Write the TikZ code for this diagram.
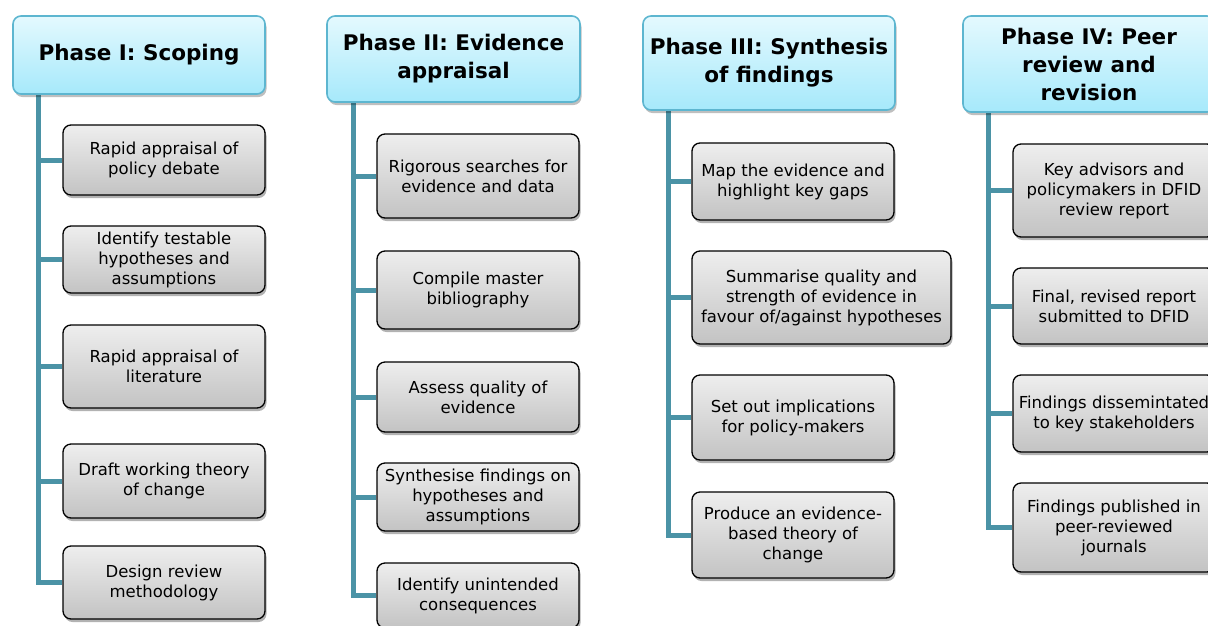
\documentclass[tikz,border=0pt]{standalone}
\usepackage{fontspec}
\setmainfont{DejaVu Sans}
\usetikzlibrary{shadows,backgrounds}
\definecolor{hdrtop}{HTML}{E4F9FE}
\definecolor{hdrbot}{HTML}{A6E9FB}
\definecolor{hdrline}{HTML}{5DB6D0}
\definecolor{boxtop}{HTML}{EEEEEE}
\definecolor{boxbot}{HTML}{C3C3C3}
\definecolor{trunkcol}{HTML}{4B93A6}
\tikzset{
  hdr/.style={draw=hdrline, line width=1.6pt, rounded corners=8pt,
    top color=hdrtop, bottom color=hdrbot, align=center,
    font=\fontsize{21.5}{28}\selectfont\bfseries, inner sep=1pt,
    drop shadow={shadow xshift=1.5pt, shadow yshift=-3pt, opacity=0.25, fill=black}},
  item/.style={draw=black, line width=1.3pt, rounded corners=8pt,
    top color=boxtop, bottom color=boxbot, align=center,
    font=\fontsize{16.5}{20}\selectfont, inner sep=1pt, minimum width=202pt,
    drop shadow={shadow xshift=1.5pt, shadow yshift=-3pt, opacity=0.3, fill=black}},
  trunk/.style={draw=trunkcol, line width=5pt}
}
\begin{document}
\begin{tikzpicture}[x=1pt,y=-1pt]
\useasboundingbox (0,0) rectangle (1208,625);
\clip (0,0) rectangle (1208,625);
% headers
\node[hdr, minimum width=252pt, minimum height=78pt] (h1) at (139,55) {Phase I: Scoping};
\node[hdr, minimum width=253pt, minimum height=86pt] (h2) at (453.5,59) {Phase II: Evidence\\appraisal};
\node[hdr, minimum width=252pt, minimum height=94pt] (h3) at (769,63) {Phase III: Synthesis\\of findings};
\node[hdr, minimum width=252pt, minimum height=96pt] (h4) at (1089,64) {Phase IV: Peer\\review and\\revision};
% trunk coordinates
\coordinate (t1) at (38,0);
\coordinate (t2) at (353,0);
\coordinate (t3) at (668,0);
\coordinate (t4) at (988,0);
% phase I
\node[item, minimum height=70pt] (a1) at (164,160) {Rapid appraisal of\\policy debate};
\node[item, minimum height=67pt] (a2) at (164,259.5) {Identify testable\\hypotheses and\\assumptions};
\node[item, minimum height=83pt] (a3) at (164,366.5) {Rapid appraisal of\\literature};
\node[item, minimum height=74pt] (a4) at (164,481) {Draft working theory\\of change};
\node[item, minimum height=73pt] (a5) at (164,582.5) {Design review\\methodology};
% phase II
\node[item, minimum height=84pt] (b1) at (478,176) {Rigorous searches for\\evidence and data};
\node[item, minimum height=78pt] (b2) at (478,290) {Compile master\\bibliography};
\node[item, minimum height=70pt] (b3) at (478,397) {Assess quality of\\evidence};
\node[item, minimum height=68pt] (b4) at (478,497) {Synthesise findings on\\hypotheses and\\assumptions};
\node[item, minimum height=65pt] (b5) at (478,595.5) {Identify unintended\\consequences};
% phase III
\node[item, minimum height=77pt] (c1) at (793,181.5) {Map the evidence and\\highlight key gaps};
\node[item, minimum height=93pt, minimum width=259pt] (c2) at (821.5,297.5) {Summarise quality and\\strength of evidence in\\favour of/against hypotheses};
\node[item, minimum height=85pt] (c3) at (793,417.5) {Set out implications\\for policy-makers};
\node[item, minimum height=86pt] (c4) at (793,535) {Produce an evidence-\\based theory of\\change};
% phase IV
\node[item, minimum height=93pt] (d1) at (1114,190.5) {Key advisors and\\policymakers in DFID\\review report};
\node[item, minimum height=76pt] (d2) at (1114,306) {Final, revised report\\submitted to DFID};
\node[item, minimum height=77pt] (d3) at (1114,413.5) {Findings dissemintated\\to key stakeholders};
\node[item, minimum height=89pt] (d4) at (1114,527.5) {Findings published in\\peer-reviewed\\journals};
% connectors
\begin{scope}[on background layer]
\draw[trunk] (h1.south -| t1) |- (a5.west);
\foreach \n in {a1,a2,a3,a4} \draw[trunk] (t1 |- \n.west) -- (\n.west);
\draw[trunk] (h2.south -| t2) |- (b5.west);
\foreach \n in {b1,b2,b3,b4} \draw[trunk] (t2 |- \n.west) -- (\n.west);
\draw[trunk] (h3.south -| t3) |- (c4.west);
\foreach \n in {c1,c2,c3} \draw[trunk] (t3 |- \n.west) -- (\n.west);
\draw[trunk] (h4.south -| t4) |- (d4.west);
\foreach \n in {d1,d2,d3} \draw[trunk] (t4 |- \n.west) -- (\n.west);
\end{scope}
\end{tikzpicture}
\end{document}
